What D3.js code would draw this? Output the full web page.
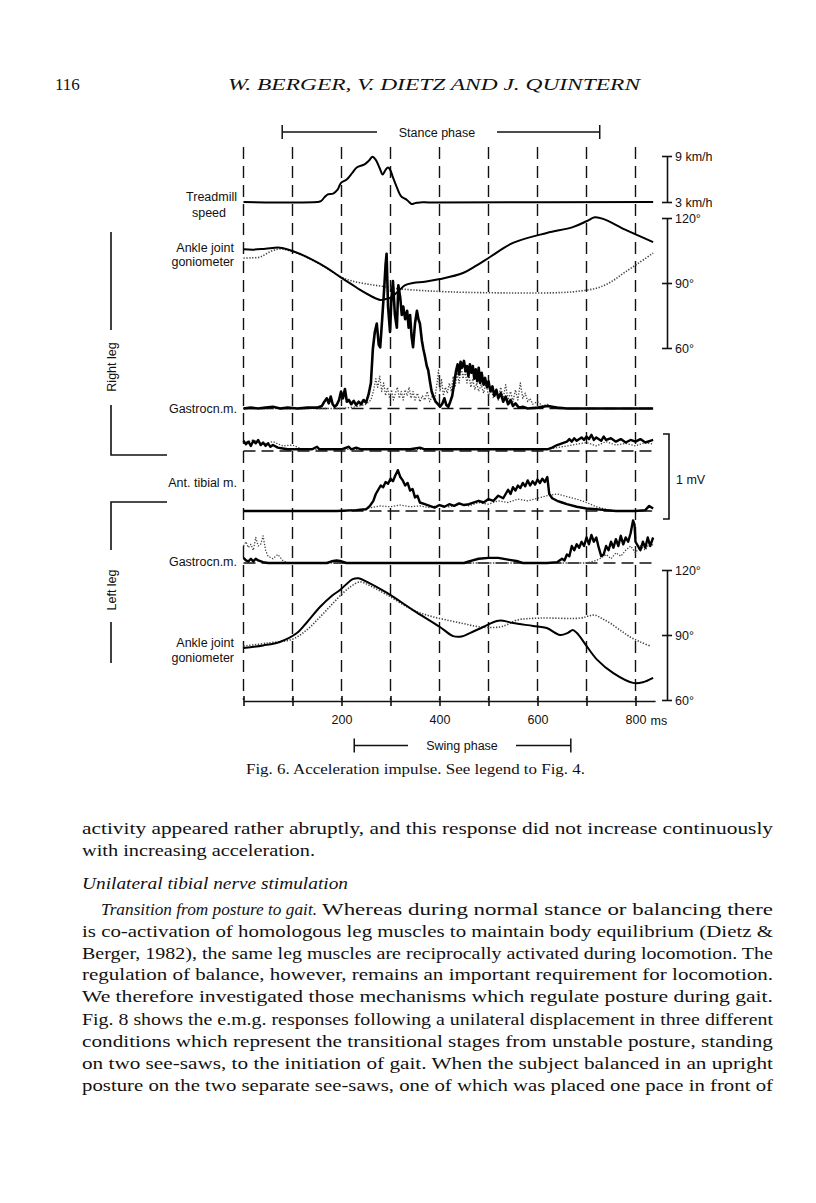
<!DOCTYPE html>
<html>
<head>
<meta charset="utf-8">
<script src="https://cdn.jsdelivr.net/npm/d3@7"></script>
<style>
  body { margin: 0; background: #fff; }
  svg text { fill: #111; }
  .lab { font-family: "Liberation Sans", Arial, sans-serif; font-size: 12.5px; }
  .serif { font-family: "Liberation Serif", "Times New Roman", serif; }
  .axis path, .axis line { stroke: #111; stroke-width: 1.6; }
  .axis text { font-family: "Liberation Sans", Arial, sans-serif; font-size: 12.5px; fill: #111; }
</style>
</head>
<body>
<div id="page"></div>
<script>
// ---- data ----
var timeTicks = [0, 100, 200, 300, 400, 500, 600, 700, 800];
var timeLabels = [200, 400, 600, 800];
var stancePhase = [79, 727];
var swingPhase = [226, 668];

// treadmill speed, [ms, km/h]
var treadmillSpeed = [[0,3],[150,3],[158,3.1],[165,3.6],[172,4.0],[183,4.1],[192,4.6],[199,5.5],[210,5.9],[222,6.8],[231,7.5],[247,7.9],[256,8.4],[263,8.9],[270,8.5],[278,7.4],[284,6.6],[290,7.2],[295,7.5],[300,7.1],[305,6.2],[313,4.9],[321,3.8],[327,3.5],[332,3.35],[338,3.0],[343,2.75],[348,2.8],[353,2.9],[360,2.95],[380,2.95],[836,3.0]];

// ankle joint goniometer, [ms, degrees]
var rightAnkleSolid = [[0,105.6],[20,105.4],[45,105.8],[74,106.3],[100,104.8],[142,100.6],[170,97],[197,92.8],[220,89.5],[238,86.8],[260,84],[279,82.2],[290,82.6],[299,83.1],[315,86],[330,89],[346,90],[370,90.6],[401,91.8],[448,94.6],[475,98],[503,102],[550,108.5],[619,113.1],[672,115.8],[700,118.5],[717,120.3],[735,119.5],[780,114.5],[836,108.9]];
var rightAnkleDotted = [[0,101.5],[15,101.6],[34,102],[55,104.5],[74,105.7],[100,104.5],[142,100.4],[170,96.8],[197,93],[220,91],[250,89.6],[279,88.6],[310,87.5],[346,86.8],[421,85.9],[550,85.4],[650,85.6],[687,86.3],[722,87.7],[750,90.5],[776,94.6],[805,99],[836,103.8]];
var leftAnkleSolid = [[0,84],[40,85.2],[74,86.8],[109,90.9],[130,96],[156,102.9],[180,108],[197,110.8],[223,115.8],[235,116.2],[252,114.5],[293,109.4],[346,101.5],[401,93.7],[428,89.5],[445,89.3],[462,90.9],[489,93.7],[517,96.5],[530,96.6],[550,95.5],[591,94.2],[619,93.2],[646,90.0],[662,91],[672,92.3],[680,91],[687,89.1],[700,85],[722,78.5],[754,72.5],[795,67.9],[815,68.2],[836,70.2]];
var leftAnkleDotted = [[0,84.9],[50,86.3],[101,88.2],[130,92.5],[156,98.3],[180,104],[203,109.4],[220,112.5],[238,114.5],[260,112.5],[293,108.5],[346,101.5],[380,98.8],[415,96.9],[450,95.2],[483,93.7],[523,93.7],[540,95],[558,96.9],[605,97.8],[687,97.8],[705,98.8],[717,99.2],[730,97.8],[748,95.5],[770,92],[789,89.1],[810,86.8],[830,84.9]];

// rectified e.m.g., [ms, mV]
var rightGastroSolid = [[0,0],[15,0.01],[30,0],[45,0.01],[60,0.02],[75,0],[90,0.01],[110,0],[130,0.01],[150,0.01],[160,0.03],[165,0.08],[170,0.12],[174,0.06],[178,0.14],[182,0.05],[186,0.02],[190,0.04],[195,0.1],[199,0.2],[203,0.12],[207,0.23],[211,0.08],[215,0.1],[220,0.05],[225,0.09],[230,0.04],[235,0.08],[240,0.05],[245,0.1],[250,0.07],[255,0.16],[260,0.3],[264,0.7],[268,0.9],[272,1.0],[276,0.75],[279,0.72],[283,1.05],[287,1.4],[290,1.7],[292,1.82],[295,1.2],[299,0.9],[302,1.3],[305,1.5],[309,1.1],[313,0.95],[316,1.45],[320,1.3],[323,1.1],[326,1.2],[330,1.05],[334,1.15],[337,0.95],[340,1.1],[343,0.85],[346,0.72],[350,1.0],[354,1.15],[357,1.05],[360,1.0],[364,0.8],[367,0.7],[370,0.62],[374,0.5],[377,0.45],[381,0.3],[384,0.2],[387,0.15],[392,0.08],[397,0.05],[401,0.02],[406,0.06],[410,0.12],[414,0.04],[418,0.02],[422,0.08],[426,0.15],[430,0.3],[434,0.45],[437,0.52],[440,0.4],[443,0.55],[446,0.48],[450,0.56],[453,0.44],[456,0.5],[459,0.38],[462,0.52],[465,0.42],[468,0.5],[471,0.35],[474,0.46],[477,0.32],[480,0.48],[483,0.3],[486,0.42],[490,0.28],[493,0.36],[497,0.25],[500,0.32],[504,0.2],[508,0.26],[512,0.15],[516,0.22],[520,0.12],[525,0.18],[530,0.08],[535,0.14],[540,0.05],[545,0.1],[550,0.03],[555,0.06],[562,0.01],[570,0.02],[580,0],[600,0.01],[620,0.03],[640,0.01],[660,0],[720,0],[780,0],[836,0]];
var rightGastroDotted = [[0,0],[200,0],[230,0.02],[250,0.05],[260,0.1],[265,0.2],[270,0.35],[274,0.25],[278,0.38],[282,0.2],[286,0.3],[290,0.15],[294,0.25],[298,0.12],[302,0.22],[306,0.1],[310,0.18],[314,0.25],[318,0.12],[322,0.2],[326,0.1],[330,0.22],[334,0.15],[338,0.25],[342,0.12],[346,0.2],[350,0.1],[355,0.18],[360,0.08],[365,0.15],[370,0.1],[375,0.2],[380,0.08],[385,0.14],[390,0.1],[395,0.3],[398,0.45],[401,0.2],[404,0.35],[408,0.15],[412,0.25],[416,0.18],[420,0.3],[424,0.2],[428,0.38],[432,0.25],[436,0.42],[440,0.3],[444,0.5],[448,0.35],[452,0.45],[456,0.3],[460,0.4],[464,0.25],[468,0.35],[472,0.22],[476,0.3],[480,0.2],[485,0.28],[490,0.18],[495,0.3],[500,0.15],[505,0.25],[510,0.12],[515,0.22],[520,0.1],[525,0.25],[530,0.12],[535,0.28],[540,0.1],[545,0.2],[550,0.08],[555,0.22],[560,0.1],[565,0.3],[570,0.12],[575,0.18],[580,0.08],[585,0.12],[590,0.05],[600,0.08],[610,0.03],[620,0.05],[630,0.02],[640,0],[836,0]];
var rightTibialSolid = [[0,0.12],[5,0.08],[10,0.11],[15,0.06],[20,0.12],[25,0.09],[30,0.13],[35,0.07],[40,0.1],[45,0.06],[50,0.09],[55,0.05],[60,0.07],[70,0.04],[80,0.03],[90,0.02],[100,0.02],[140,0.02],[150,0.05],[155,0.02],[200,0.02],[215,0.05],[220,0.02],[230,0.04],[240,0.02],[300,0.02],[340,0.02],[360,0.04],[370,0.02],[450,0.02],[560,0.02],[620,0.02],[630,0.04],[640,0.07],[650,0.09],[660,0.11],[665,0.14],[670,0.11],[675,0.15],[680,0.12],[690,0.16],[695,0.13],[700,0.17],[705,0.14],[710,0.19],[715,0.13],[720,0.16],[730,0.12],[735,0.17],[740,0.13],[750,0.15],[760,0.11],[770,0.14],[780,0.1],[790,0.13],[800,0.11],[810,0.14],[820,0.1],[830,0.12],[836,0.13]];
var rightTibialDotted = [[0,0.09],[20,0.13],[40,0.08],[60,0.11],[80,0.06],[100,0.07],[120,0.02],[140,0.02],[620,0.02],[650,0.05],[680,0.08],[700,0.1],[720,0.06],[740,0.11],[760,0.07],[780,0.09],[800,0.06],[820,0.1],[836,0.08]];
var leftTibialSolid = [[0,0],[100,0],[190,0],[230,0.01],[250,0.02],[258,0.06],[265,0.12],[270,0.2],[275,0.25],[280,0.3],[285,0.28],[290,0.34],[295,0.32],[300,0.38],[305,0.35],[310,0.42],[315,0.48],[320,0.4],[325,0.36],[330,0.3],[335,0.33],[340,0.24],[345,0.26],[350,0.16],[355,0.18],[360,0.1],[370,0.08],[380,0.06],[390,0.04],[400,0.07],[410,0.05],[420,0.08],[430,0.06],[440,0.09],[450,0.07],[460,0.08],[480,0.12],[490,0.1],[500,0.14],[510,0.12],[520,0.18],[530,0.15],[540,0.25],[545,0.2],[550,0.28],[555,0.24],[560,0.3],[565,0.27],[570,0.33],[575,0.29],[580,0.36],[585,0.3],[590,0.35],[595,0.31],[600,0.37],[605,0.33],[610,0.38],[615,0.34],[620,0.4],[624,0.2],[630,0.15],[640,0.12],[650,0.1],[660,0.08],[680,0.05],[700,0.03],[720,0.02],[740,0.01],[760,0],[800,0],[820,0.01],[828,0.06],[836,0.03]];
var leftTibialDotted = [[0,0],[200,0],[240,0.02],[260,0.04],[280,0.06],[300,0.05],[320,0.07],[340,0.05],[360,0.06],[380,0.04],[400,0.07],[420,0.05],[440,0.08],[460,0.06],[480,0.1],[500,0.08],[520,0.12],[540,0.1],[560,0.14],[580,0.12],[600,0.15],[620,0.18],[640,0.2],[660,0.17],[680,0.14],[700,0.1],[720,0.05],[740,0.02],[760,0],[836,0]];
var leftGastroSolid = [[0,0.06],[5,0.03],[10,0.02],[15,0.05],[20,0.02],[25,0.05],[30,0.03],[40,0.01],[50,0],[100,0],[170,0],[180,0.02],[190,0.03],[200,0.02],[210,0],[300,0],[380,0],[450,0],[460,0.02],[480,0.05],[500,0.06],[520,0.06],[540,0.04],[560,0.02],[570,0],[620,0],[640,0.01],[650,0.05],[655,0.03],[660,0.1],[665,0.08],[670,0.2],[675,0.15],[680,0.22],[685,0.18],[690,0.25],[695,0.2],[700,0.3],[705,0.22],[710,0.33],[715,0.25],[720,0.3],[725,0.18],[730,0.08],[735,0.1],[740,0.2],[745,0.15],[750,0.25],[755,0.18],[760,0.28],[765,0.2],[770,0.32],[775,0.22],[780,0.3],[785,0.25],[790,0.35],[795,0.5],[798,0.45],[800,0.25],[805,0.2],[810,0.15],[815,0.25],[820,0.18],[825,0.3],[830,0.2],[836,0.3]];
var leftGastroDotted = [[0,0.2],[5,0.25],[10,0.18],[15,0.22],[20,0.15],[25,0.3],[30,0.2],[35,0.22],[40,0.32],[45,0.15],[50,0.08],[60,0.05],[70,0.1],[80,0.03],[90,0],[700,0],[720,0.03],[730,0.06],[740,0.1],[750,0.05],[760,0.12],[770,0.08],[780,0.15],[790,0.2],[800,0.12],[810,0.2],[820,0.15],[830,0.25],[836,0.2]];

var speedTicks = [3, 9];
var angleTicks = [60, 90, 120];

// page text
var bodyLines = [
  "activity appeared rather abruptly, and this response did not increase continuously",
  "with increasing acceleration.",
  "Unilateral tibial nerve stimulation",
  "Whereas during normal stance or balancing there",
  "is co-activation of homologous leg muscles to maintain body equilibrium (Dietz &",
  "Berger, 1982), the same leg muscles are reciprocally activated during locomotion. The",
  "regulation of balance, however, remains an important requirement for locomotion.",
  "We therefore investigated those mechanisms which regulate posture during gait.",
  "Fig. 8 shows the e.m.g. responses following a unilateral displacement in three different",
  "conditions which represent the transitional stages from unstable posture, standing",
  "on two see-saws, to the initiation of gait. When the subject balanced in an upright",
  "posture on the two separate see-saws, one of which was placed one pace in front of"
];

// ---- drawing ----
var svg = d3.select("#page").append("svg")
  .attr("width", 816).attr("height", 1203);
svg.append("rect").attr("width", 816).attr("height", 1203).attr("fill", "#fff");

var x = d3.scaleLinear().domain([0, 840]).range([243.5, 655.1]);
var ySpeed = d3.scaleLinear().domain([3, 9]).range([202, 156]);
var yAngR = d3.scaleLinear().domain([60, 120]).range([348, 218]);
var yAngL = d3.scaleLinear().domain([60, 120]).range([700, 570]);
function emgY(base) { return d3.scaleLinear().domain([0, 1]).range([base, base - 85]); }
var yRG = emgY(408.5), yRT = emgY(451), yLT = emgY(511), yLG = emgY(563);

// header
svg.append("text").attr("class", "serif").attr("x", 55).attr("y", 90)
  .style("font-size", "17px").text("116");
svg.append("text").attr("class", "serif").attr("x", 228).attr("y", 90)
  .style("font-size", "17px").style("font-style", "italic")
  .attr("textLength", 412).attr("lengthAdjust", "spacingAndGlyphs")
  .text("W. BERGER, V. DIETZ AND J. QUINTERN");

// vertical dashed time markers
svg.append("g").selectAll("line").data(timeTicks).enter().append("line")
  .attr("x1", function (d) { return x(d); }).attr("x2", function (d) { return x(d); })
  .attr("y1", 147).attr("y2", 700)
  .attr("stroke", "#111").attr("stroke-width", 1.4)
  .attr("stroke-dasharray", "12,7");

// zero lines of the e.m.g. channels
[yRG, yRT, yLT, yLG].forEach(function (s) {
  svg.append("line").attr("x1", x(0)).attr("x2", x(836))
    .attr("y1", s(0)).attr("y2", s(0))
    .attr("stroke", "#111").attr("stroke-width", 1.4)
    .attr("stroke-dasharray", "12,6");
});

function trace(data, ys, width, dotted, curve) {
  var line = d3.line()
    .x(function (d) { return x(d[0]); })
    .y(function (d) { return ys(d[1]); })
    .curve(curve || d3.curveLinear);
  var p = svg.append("path").datum(data)
    .attr("d", line).attr("fill", "none")
    .attr("stroke", dotted ? "#444" : "#000")
    .attr("stroke-width", width)
    .attr("stroke-linejoin", "round");
  if (dotted) p.attr("stroke-dasharray", "1.3,1.6");
  return p;
}

trace(treadmillSpeed, ySpeed, 2, false, d3.curveCatmullRom);

trace(rightAnkleDotted, yAngR, 1.6, true, d3.curveCatmullRom);
trace(rightAnkleSolid, yAngR, 2, false, d3.curveCatmullRom);
trace(leftAnkleDotted, yAngL, 1.6, true, d3.curveCatmullRom);
trace(leftAnkleSolid, yAngL, 2, false, d3.curveCatmullRom);

trace(rightGastroDotted, yRG, 1.3, true);
trace(rightGastroSolid, yRG, 2.6, false);
trace(rightTibialDotted, yRT, 1.3, true);
trace(rightTibialSolid, yRT, 2.4, false);
trace(leftTibialDotted, yLT, 1.3, true);
trace(leftTibialSolid, yLT, 2.4, false);
trace(leftGastroDotted, yLG, 1.3, true);
trace(leftGastroSolid, yLG, 2.4, false);

// time axis
var xAxis = svg.append("g").attr("class", "axis")
  .attr("transform", "translate(0,701)")
  .call(d3.axisBottom(x).tickValues(timeTicks).tickSizeInner(5).tickSizeOuter(0)
    .tickPadding(9)
    .tickFormat(function (d) { return timeLabels.indexOf(d) >= 0 ? d : ""; }));
xAxis.selectAll(".tick line").attr("y1", -5);
xAxis.append("text").attr("x", x(800) + 15).attr("y", 23.5)
  .attr("text-anchor", "start").style("font-size", "12.5px").text("ms");

// right hand scales
var sAx = svg.append("g").attr("class", "axis").attr("transform", "translate(667,0)")
  .call(d3.axisRight(ySpeed).tickValues(speedTicks).tickSizeInner(5).tickSizeOuter(0)
    .tickPadding(3).tickFormat(function (d) { return d + " km/h"; }));
sAx.selectAll(".tick line").attr("x1", -5);

[yAngR, yAngL].forEach(function (ys) {
  var a = svg.append("g").attr("class", "axis").attr("transform", "translate(667,0)")
    .call(d3.axisRight(ys).tickValues(angleTicks).tickSizeInner(5).tickSizeOuter(0)
      .tickPadding(3).tickFormat(function (d) { return d + "°"; }));
  a.selectAll(".tick line").attr("x1", -5);
});

// 1 mV calibration bracket
svg.append("path")
  .attr("d", "M663," + yRT(0.2) + "H669V" + (yRT(0.2) + 85) + "H663")
  .attr("fill", "none").attr("stroke", "#111").attr("stroke-width", 1.6);
svg.append("text").attr("class", "lab").attr("x", 676).attr("y", 484).text("1 mV");

// phase brackets
function phase(range, y, label, gapL, gapR) {
  var g = svg.append("g").attr("stroke", "#111").attr("stroke-width", 1.5);
  var a = x(range[0]), b = x(range[1]);
  g.append("line").attr("x1", a).attr("x2", gapL).attr("y1", y).attr("y2", y);
  g.append("line").attr("x1", gapR).attr("x2", b).attr("y1", y).attr("y2", y);
  g.append("line").attr("x1", a).attr("x2", a).attr("y1", y - 7).attr("y2", y + 7);
  g.append("line").attr("x1", b).attr("x2", b).attr("y1", y - 7).attr("y2", y + 7);
  svg.append("text").attr("class", "lab").attr("x", (gapL + gapR) / 2).attr("y", y + 4.5)
    .attr("text-anchor", "middle").text(label);
}
phase(stancePhase, 132, "Stance phase", 377, 497);
phase(swingPhase, 745.5, "Swing phase", 408, 516);

// channel labels
var labels = [
  ["Treadmill", 237, 201, "end"], ["speed", 209, 217, "middle"],
  ["Ankle joint", 234, 252, "end"], ["goniometer", 234, 266, "end"],
  ["Gastrocn.m.", 237, 413, "end"],
  ["Ant. tibial m.", 237, 487, "end"],
  ["Gastrocn.m.", 237, 566, "end"],
  ["Ankle joint", 234, 647, "end"], ["goniometer", 234, 662, "end"]
];
labels.forEach(function (l) {
  svg.append("text").attr("class", "lab").attr("x", l[1]).attr("y", l[2])
    .attr("text-anchor", l[3]).text(l[0]);
});

// leg brackets
var legs = svg.append("g").attr("stroke", "#111").attr("stroke-width", 1.6).attr("fill", "none");
legs.append("path").attr("d", "M111,232V330");
legs.append("path").attr("d", "M111,405V455H167");
legs.append("path").attr("d", "M167,502H111V550");
legs.append("path").attr("d", "M111,622V663");
svg.append("text").attr("class", "lab").attr("transform", "translate(116,367) rotate(-90)")
  .attr("text-anchor", "middle").text("Right leg");
svg.append("text").attr("class", "lab").attr("transform", "translate(116,590) rotate(-90)")
  .attr("text-anchor", "middle").text("Left leg");

// caption
svg.append("text").attr("class", "serif").attr("x", 246).attr("y", 774)
  .style("font-size", "14px").attr("textLength", 339).attr("lengthAdjust", "spacingAndGlyphs")
  .text("Fig. 6. Acceleration impulse. See legend to Fig. 4.");

// body text
var lineY = [834, 856, 889, 915, 937, 959, 980, 1002, 1025, 1047, 1069, 1091];
var lineSpec = [
  { x: 82, w: 691 }, { x: 82, w: 233 }, { x: 82, w: 266, it: true }, { x: 322, w: 451 },
  { x: 82, w: 691 }, { x: 82, w: 691 }, { x: 82, w: 691 }, { x: 82, w: 691 },
  { x: 82, w: 691 }, { x: 82, w: 691 }, { x: 82, w: 691 }, { x: 82, w: 691 }
];
bodyLines.forEach(function (t, i) {
  var s = lineSpec[i];
  var el = svg.append("text").attr("class", "serif").attr("x", s.x).attr("y", lineY[i])
    .style("font-size", "17.5px").attr("textLength", s.w).attr("lengthAdjust", "spacingAndGlyphs")
    .text(t);
  if (s.it) el.style("font-style", "italic");
});
svg.append("text").attr("class", "serif").attr("x", 101).attr("y", lineY[3])
  .style("font-size", "17.5px").style("font-style", "italic")
  .attr("textLength", 216).attr("lengthAdjust", "spacingAndGlyphs")
  .text("Transition from posture to gait.");
</script>
</body>
</html>
